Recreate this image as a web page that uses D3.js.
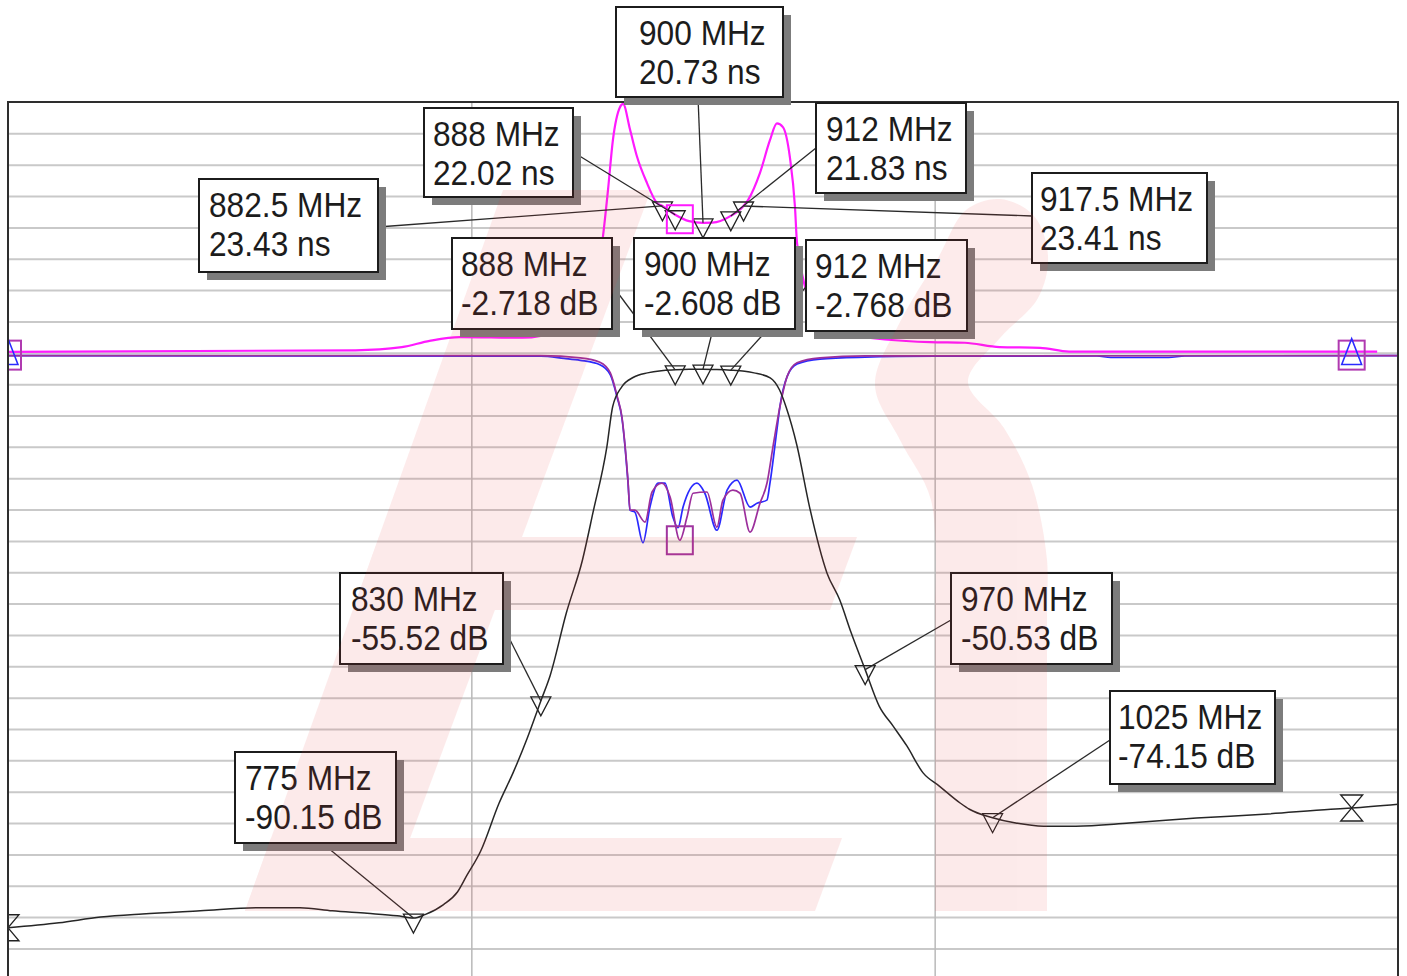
<!DOCTYPE html>
<meta charset="utf-8">
<title>Filter response</title>
<body style="margin:0;background:#fff">
<script src="https://d3js.org/d3.v7.min.js"></script>
<div id="chart"></div>
<script>

// axes: frequency in MHz, level in dB (group delay in ns shares the same grid, 5 per div)
var freqDomain = [600, 1200];
var levelDomain = [40, -100];
var vGrid = [800, 1000];
var hGrid = d3.range(35, -100, -5);

// S21 magnitude (dB)
var s21Freq = [600, 622, 640, 658, 683, 709, 726, 740, 755, 768, 775, 780, 788, 794, 798, 804, 812, 818, 824, 830,
  834, 841, 848, 852.5, 858.5, 861, 865, 870, 876, 882, 888, 894, 900, 906, 912, 918, 922, 929, 933, 936,
  940.5, 946, 953.5, 959, 964, 970, 976, 982, 988, 995, 1002, 1011, 1015, 1025, 1035, 1047, 1061, 1084, 1113, 1142,
  1171, 1180, 1200];
var s21Db = [-91.7, -90.9, -90.0, -89.5, -89.0, -88.5, -88.5, -89.0, -89.4, -89.8, -90.15, -89.6, -88.0, -86.0, -83.4, -79.5, -71.8, -67.0, -61.6, -55.52,
  -51.5, -41.5, -33.0, -25.5, -15.0, -8.6, -5.4, -3.9, -3.2, -2.85, -2.718, -2.63, -2.608, -2.66, -2.768, -2.95, -3.2, -4.0, -5.9, -8.8,
  -14.7, -24.6, -35.1, -39.4, -44.7, -50.53, -56.3, -59.5, -62.7, -67.0, -69.1, -71.8, -72.8, -74.15, -75.0, -75.5, -75.5, -75.0, -74.2, -73.6,
  -72.8, -72.6, -72.0];

// S11 (blue) and S22 (purple) return loss (dB)
var s11Freq = [600, 830, 840, 847, 855.5, 860, 863, 865, 866.4, 867.6, 868.5, 870.6, 874.1, 877.1, 880.6, 883.6, 887, 889.2, 891.4, 897.4,
  900.8, 906, 910.4, 914.7, 920.3, 923.3, 927.6, 928.9, 931.9, 933.2, 936.3, 940.6, 950.5, 970, 1000, 1070, 1076, 1101, 1108, 1200];
var s11Db = [-0.45, -0.55, -0.9, -1.2, -1.9, -3.5, -7.2, -10.4, -15.2, -20.5, -25.1, -25.4, -30.3, -24.6, -20.8, -20.8, -26.2, -27.9, -24.6, -20.8,
  -22.4, -28.3, -21.9, -20.3, -24.6, -24.0, -23.5, -20.8, -12.3, -8.6, -3.8, -1.8, -1.0, -0.7, -0.55, -0.5, -0.75, -0.75, -0.5, -0.45];

var s22Freq = [600, 830, 847, 855.5, 860, 863, 865, 866.4, 867.6, 868.5, 870.6, 875, 878, 882.3, 885.8, 890, 893.1, 895.7, 901.7, 906,
  908.6, 912.9, 916, 920.3, 924.6, 927.6, 930.2, 933.2, 936.3, 940.6, 950.5, 970, 1200];
var s22Db = [-0.45, -0.45, -0.8, -1.5, -3.2, -7.0, -10.2, -15.0, -20.3, -25.1, -25.1, -27.0, -22.2, -20.8, -23.0, -29.9, -26.2, -22.4, -22.2, -27.8,
  -23.5, -21.9, -22.4, -28.6, -24.0, -20.8, -15.0, -8.6, -3.8, -1.6, -0.8, -0.5, -0.45];

// S21 group delay (ns)
var gdFreq = [600, 750, 770, 782, 795, 822, 838, 849, 856.8, 859, 861.1, 864.2, 865.5, 868.5, 871.5, 875.8, 880.1, 882.5, 888, 894,
  900, 904, 912, 917.5, 919.5, 924.6, 928.9, 931.9, 934.5, 937.5, 939.7, 940.6, 948.3, 963.5, 998, 1013, 1028, 1045.5, 1058, 1191];
var gdNs = [0.15, 0.4, 0.9, 1.9, 2.5, 2.4, 3.6, 6.8, 18.5, 26.0, 33.9, 39.2, 39.7, 35.6, 31.3, 27.1, 23.9, 23.43, 22.02, 21.0,
  20.73, 20.75, 21.83, 23.41, 24.4, 28.7, 33.9, 36.6, 36.0, 31.2, 23.3, 17.5, 6.8, 2.8, 1.7, 1.6, 0.9, 0.8, 0.2, 0.2];

// markers
var s21MarkFreq = [775, 830, 888, 900, 912, 970, 1025];
var s21MarkDb = [-90.15, -55.52, -2.718, -2.608, -2.768, -50.53, -74.15];
var gdMarkFreq = [882.5, 888, 900, 912, 917.5];
var gdMarkNs = [23.43, 22.02, 20.73, 21.83, 23.41];
var refFreq = [600, 1180];
var refS21 = [-91.7, -72.6];
var refS22 = [-0.45, -0.45];
var s22MinFreq = 890, s22MinDb = -29.9;
var gdSqFreq = 890, gdSqNs = 21.3;

// label box layout in px: x, y, w, h, leader start x, leader start y, text pad
var s21Boxes = [[235, 752, 161, 91, 322, 843, 10], [340, 573, 163, 91, 503, 626, 11], [452, 238, 160, 91, 612, 285, 9],
  [634, 238, 161, 91, 713, 329, 10], [806, 240, 161, 91, 806, 287, 9], [951, 573, 161, 91, 951, 620, 10],
  [1110, 691, 165, 93, 1110, 740, 8]];
var gdBoxes = [[199, 179, 179, 93, 378, 227, 10], [424, 108, 149, 89, 573, 152, 9], [616, 7, 167, 90, 698, 97, 23],
  [816, 103, 150, 90, 816, 148, 10], [1032, 173, 175, 90, 1032, 216, 8]];

var W = 1407, H = 976;

var x = d3.scaleLinear().domain(freqDomain).range([8, 1398]);
var y = d3.scaleLinear().domain(levelDomain).range([102, 979.8]);
var pw = x(1200) - x(600), ph = y(-100) - y(40);

var svg = d3.select("#chart").append("svg")
  .attr("width", W).attr("height", H).style("display", "block");

svg.append("clipPath").attr("id", "plot").append("rect")
  .attr("x", x(600)).attr("y", y(40)).attr("width", pw).attr("height", ph);

// grid
svg.append("g")
  .attr("transform", "translate(" + x(600) + ",0)")
  .call(d3.axisLeft(y).tickValues(hGrid).tickSize(-pw).tickFormat(""))
  .call(function (g) { g.select(".domain").remove(); })
  .selectAll("line").attr("stroke", "#c9c9c9").attr("stroke-width", 2);
svg.append("g")
  .attr("transform", "translate(0," + y(40) + ")")
  .call(d3.axisBottom(x).tickValues(vGrid).tickSize(ph).tickFormat(""))
  .call(function (g) { g.select(".domain").remove(); })
  .selectAll("line").attr("stroke", "#b9b9b9").attr("stroke-width", 1.5);

var plot = svg.append("g").attr("clip-path", "url(#plot)");

var line = d3.line()
  .x(function (d) { return x(d[0]); })
  .y(function (d) { return y(d[1]); })
  .curve(d3.curveMonotoneX);

function trace(fr, vals, color, w) {
  plot.append("path")
    .datum(fr.map(function (f, i) { return [f, vals[i]]; }))
    .attr("fill", "none").attr("stroke", color).attr("stroke-width", w)
    .attr("stroke-linejoin", "round")
    .attr("d", line);
}

trace(s11Freq, s11Db, "#2a2aff", 1.7);
trace(s22Freq, s22Db, "#9c2f9c", 1.7);
trace(gdFreq, gdNs, "#ff1aff", 2.2);
trace(s21Freq, s21Db, "#262626", 1.5);

// marker symbols
var mk = plot.append("g").attr("fill", "none").attr("stroke", "#222").attr("stroke-width", 1.3);

function downTri(px, py) {
  return "M" + (px - 10) + "," + (py - 4) + "H" + (px + 10) + "L" + px + "," + (py + 15) + "Z";
}

s21MarkFreq.forEach(function (f, i) {
  mk.append("path").attr("d", downTri(x(f), y(s21MarkDb[i])));
});
gdMarkFreq.forEach(function (f, i) {
  mk.append("path").attr("d", downTri(x(f), y(gdMarkNs[i])));
});

// reference markers (hourglass on S21, square + triangle on S11/S22)
refFreq.forEach(function (f, i) {
  var px = x(f), py = y(refS21[i]);
  mk.append("path").attr("d",
    "M" + (px - 11) + "," + (py - 13) + "H" + (px + 11) + "L" + (px - 11) + "," + (py + 13) + "H" + (px + 11) + "Z");
  var qy = y(refS22[i]);
  plot.append("rect").attr("x", px - 13).attr("y", qy - 15).attr("width", 26).attr("height", 29)
    .attr("fill", "none").attr("stroke", "#b03ab0").attr("stroke-width", 2);
  plot.append("path")
    .attr("d", "M" + px + "," + (qy - 17) + "L" + (px + 10) + "," + (qy + 9) + "H" + (px - 10) + "Z")
    .attr("fill", "none").attr("stroke", "#2a2aff").attr("stroke-width", 1.5);
});

plot.append("rect")
  .attr("x", x(s22MinFreq) - 13).attr("y", y(s22MinDb) - 14).attr("width", 26).attr("height", 28)
  .attr("fill", "none").attr("stroke", "#a035a0").attr("stroke-width", 2);
plot.append("rect")
  .attr("x", x(gdSqFreq) - 13).attr("y", y(gdSqNs) - 14).attr("width", 26).attr("height", 28)
  .attr("fill", "none").attr("stroke", "#ff1aff").attr("stroke-width", 2);

// frame
svg.append("rect")
  .attr("x", x(600)).attr("y", y(40)).attr("width", pw).attr("height", ph)
  .attr("fill", "none").attr("stroke", "#2e2e2e").attr("stroke-width", 2);

// leader lines
var leaders = svg.append("g").attr("stroke", "#2a2a2a").attr("stroke-width", 1.3);
function leader(b, f, v) {
  leaders.append("line")
    .attr("x1", b[4]).attr("y1", b[5]).attr("x2", x(f)).attr("y2", y(v));
}
s21MarkFreq.forEach(function (f, i) { leader(s21Boxes[i], f, s21MarkDb[i]); });
gdMarkFreq.forEach(function (f, i) { leader(gdBoxes[i], f, gdMarkNs[i]); });

// label boxes
var boxes = svg.append("g");
function labelBox(b, lines) {
  var g = boxes.append("g");
  g.append("rect").attr("x", b[0] + 8).attr("y", b[1] + 8).attr("width", b[2]).attr("height", b[3])
    .attr("fill", "#7c7c7c");
  g.append("rect").attr("x", b[0]).attr("y", b[1]).attr("width", b[2]).attr("height", b[3])
    .attr("fill", "#fff").attr("stroke", "#1c1c1c").attr("stroke-width", 2);
  lines.forEach(function (t, k) {
    g.append("text")
      .attr("transform", "translate(" + (b[0] + b[6]) + "," + (b[1] + 38 + k * 39) + ") scale(0.88,1)")
      .attr("font-family", "'Liberation Sans', Arial, sans-serif")
      .attr("font-size", 36).attr("fill", "#1c1c1c")
      .text(t);
  });
}
s21MarkFreq.forEach(function (f, i) {
  labelBox(s21Boxes[i], [f + " MHz", s21MarkDb[i] + " dB"]);
});
gdMarkFreq.forEach(function (f, i) {
  labelBox(gdBoxes[i], [f + " MHz", gdMarkNs[i] + " ns"]);
});

// faint logo watermark over everything
var wm = svg.append("g").attr("opacity", 0.1).attr("fill", "#eb3c3c").style("pointer-events", "none");
wm.append("path").attr("d", "M503,190 L651,190 L383,911 L245,911 Z");
wm.append("path").attr("d", "M271,838 L842,838 L815,911 L245,911 Z");
wm.append("path").attr("d", "M379,537 L857,537 L830,610 L353,610 Z");
var hookTop = [[935, 600], [931, 500], [900, 440], [875, 385], [900, 322], [938, 258], [966, 210], [1000, 199],
  [1034, 216], [1048, 256], [1038, 298], [1000, 338], [968, 382], [1004, 428], [1032, 485], [1047, 560], [1047, 600]];
wm.append("path").attr("d", d3.line().curve(d3.curveCatmullRom.alpha(0.5))(hookTop) + "L1047,911L935,911Z");

</script>
</body>
